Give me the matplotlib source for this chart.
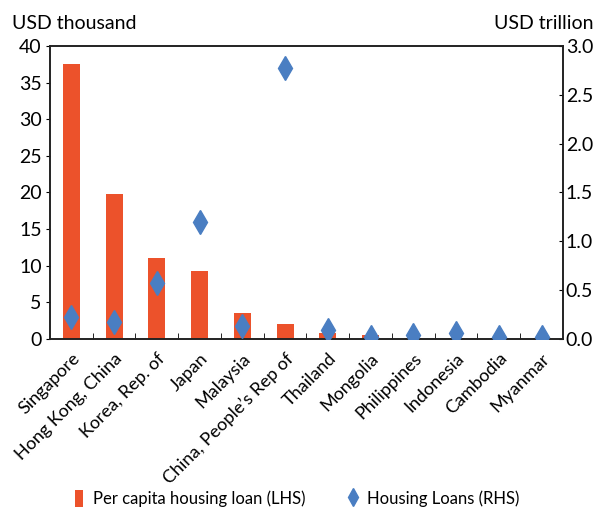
import matplotlib
matplotlib.use("Agg")
import matplotlib.pyplot as plt
import numpy as np

plt.rcParams['font.family'] = ['Lato', 'DejaVu Sans']
plt.rcParams['font.size'] = 14

economies = ["Singapore", "Hong Kong, China", "Korea, Rep. of", "Japan", "Malaysia",
             "China, People\u2019s Rep of", "Thailand", "Mongolia", "Philippines",
             "Indonesia", "Cambodia", "Myanmar"]
per_capita_loan = [37.6, 19.8, 11.0, 9.3, 3.5, 2.0, 0.8, 0.5, 0.2, 0.2, 0.15, 0.1]
housing_loans = [0.23, 0.17, 0.57, 1.20, 0.13, 2.77, 0.09, 0.02, 0.04, 0.06, 0.02, 0.02]

bar_color = "#EC522B"
dia_color = "#4A7EC2"

fig = plt.figure(figsize=(6, 5.14), dpi=100)
ax = fig.add_axes([0.0833, 0.3405, 0.855, 0.570])
x = np.arange(len(economies))

ax.bar(x, per_capita_loan, width=0.4, color=bar_color, zorder=2,
       label="Per capita housing loan (LHS)")
ax.set_ylim(0, 40)
ax.set_yticks(range(0, 41, 5))
ax.set_xlim(-0.5, len(economies) - 0.5)
ax.set_xticks(x)
ax.set_xticklabels(economies, rotation=45, ha="right", rotation_mode="anchor", fontsize=13)
ax.set_xticks(np.arange(0.5, len(economies) - 0.5, 1), minor=True)
ax.tick_params(axis="x", which="major", length=0, pad=8)
ax.tick_params(axis="x", which="minor", direction="in", length=4)
ax.tick_params(axis="y", direction="out", length=3, pad=3)

ax2 = ax.twinx()
ax2.plot(x, housing_loans, linestyle="none", marker="d", markersize=12,
         color=dia_color, zorder=3, label="Housing Loans (RHS)")
ax2.set_ylim(0, 3.0)
ax2.set_yticks(np.arange(0, 3.01, 0.5))
ax2.set_yticklabels([f"{v:.1f}" for v in np.arange(0, 3.01, 0.5)])
ax2.tick_params(axis="y", direction="in", length=3, pad=2)

for a in (ax, ax2):
    for s in a.spines.values():
        s.set_linewidth(1.2)
        s.set_color("#222222")

fig.text(0.02, 0.955, "USD thousand", fontsize=14, ha="left", va="center")
fig.text(0.99, 0.955, "USD trillion", fontsize=14, ha="right", va="center")

h1, l1 = ax.get_legend_handles_labels()
h2, l2 = ax2.get_legend_handles_labels()
fig.legend(h1 + h2, l1 + l2, loc="lower center", bbox_to_anchor=(0.495, -0.015),
           ncol=2, frameon=False, fontsize=12, columnspacing=2.6,
           handlelength=0.5, handleheight=1.2, handletextpad=0.6, markerscale=0.75)

fig.savefig("out.png", dpi=100)
